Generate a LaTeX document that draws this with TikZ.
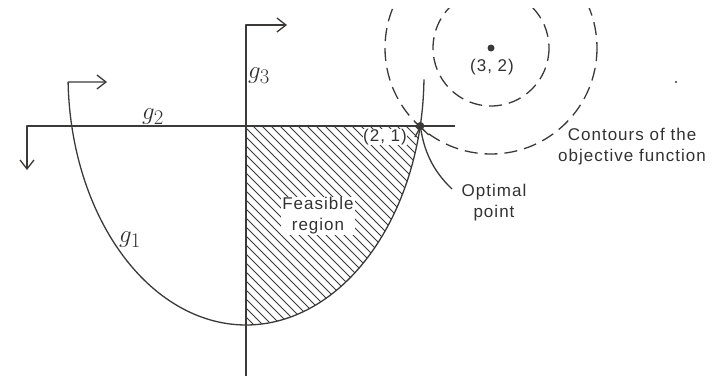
\documentclass[tikz,border=0pt]{standalone}
\usepackage{fontspec}
\usetikzlibrary{arrows.meta}
\newfontfamily\labfont[LetterSpace=6]{Liberation Sans}
\definecolor{linec}{RGB}{60,58,56}
\definecolor{textc}{RGB}{50,50,50}
\tikzset{
  curve/.style={line width=1.3pt, draw=linec, line join=round},
  hatchline/.style={line width=0.9pt, draw=linec},
  contour/.style={line width=1.3pt, draw=linec, dash pattern=on 13pt off 7pt},
  barb/.style={-{Straight Barb[length=9pt,width=14pt,line width=1.3pt]}},
  lab/.style={font=\labfont\fontsize{17}{21}\selectfont, text=textc, align=center, inner sep=1pt},
  glab/.style={font=\Huge, text=textc, inner sep=0pt},
  dotc/.style={fill=linec}
}
\begin{document}
\begin{tikzpicture}[x=1pt,y=-1pt]
\useasboundingbox (0,0) rectangle (721,378);
\coordinate (O) at (420.3,126);
\coordinate (C) at (491,48);
\coordinate (eL) at ({246+178*cos(178.4)},{75+250*sin(178.4)});
\coordinate (aL) at (107,82);
\coordinate (g2R) at (455,126);
\coordinate (g2L) at (27,126);
\coordinate (g2D) at (27,170);
\coordinate (g3B) at (246,376);
\coordinate (g3T) at (246,25);
\coordinate (g3A) at (287,25);
\coordinate (os) at (452,189);
\coordinate (speck) at (676,82);
% hatching of the feasible region
\begin{scope}
  \clip (246,126) -- (O) -- plot[domain=11.77:90, samples=60] ({246+178*cos(\x)},{75+250*sin(\x)}) -- cycle;
  \foreach \k in {20,29,...,420} \draw[hatchline] (\k,100) -- ++(260,260);
\end{scope}
% constraint g1
\draw[curve] plot[domain=1:178.4, samples=150] ({246+178*cos(\x)},{75+250*sin(\x)});
\draw[curve, barb] (eL) -- (aL);
% constraint g2
\draw[curve, barb] (g2R) -- (g2L) -- (g2D);
% constraint g3
\draw[curve, barb] (g3B) -- (g3T) -- (g3A);
% contours
\begin{scope}
  \clip (0,8) rectangle (721,378);
  \draw[contour] (C) circle[radius=58];
  \draw[contour] (C) circle[radius=106];
\end{scope}
\fill[dotc] (C) circle[radius=3.5];
\fill[dotc] (O) circle[radius=4];
\fill[dotc] (speck) circle[radius=1.1];
% labels
\node[lab, fill=white] (fr) at (318,216) {Feasible\\region};
\node[lab, fill=white, inner sep=0.5pt] (p21) at (385,137) {(2, 1)};
\node[lab] (p32) at (492,67) {(3, 2)};
\node[lab] (cont) at (632,147) {Contours of the\\objective function};
\node[lab] (opt) at (494,203) {Optimal\\point};
\draw[curve, barb] (os) .. controls (432,170) and (424,150) .. (O);
\node[glab] (g1) at (130,240) {$g_1$};
\node[glab] (g2) at (153,117) {$g_2$};
\node[glab] (g3) at (259,76) {$g_3$};
\end{tikzpicture}
\end{document}
